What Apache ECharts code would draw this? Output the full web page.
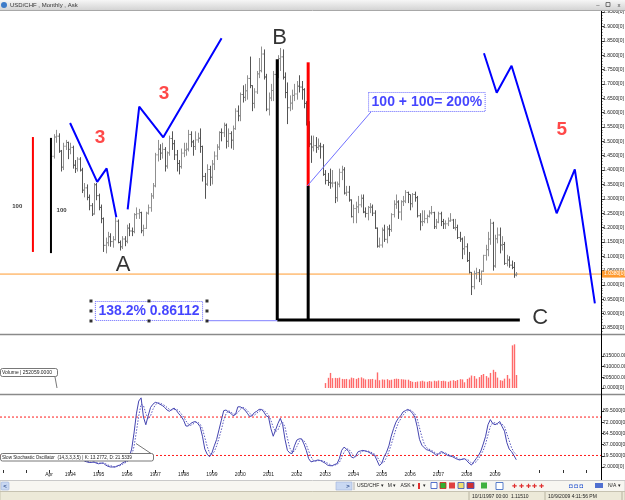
<!DOCTYPE html>
<html><head><meta charset="utf-8">
<script src="https://cdn.jsdelivr.net/npm/echarts@6/dist/echarts.min.js"></script>
<style>html,body{margin:0;padding:0;background:#fff;overflow:hidden}#c{width:625px;height:500px}</style>
</head><body><div id="c"></div>
<script>
// ---------- DATA (monthly USD/CHF, first bar = May 1993; month index m = months since Jan 1993) ----------
var firstMonthIndex = 4;
var open = [
1.4300,1.4480,1.5150,1.5180,1.4660,1.4100,1.4830,1.4960,
1.4720,1.4790,1.4170,1.4050,1.4380,1.4000,1.3300,1.3380,1.3050,1.2760,1.2470,1.3490,
1.3110,1.2700,1.2310,1.1380,1.1470,1.1680,1.1510,1.1580,1.2220,1.1480,1.1330,1.1600,
1.1520,1.1980,1.1880,1.1860,1.2450,1.2480,1.2520,1.1890,1.1970,1.2500,1.2690,1.3100,
1.3450,1.4530,1.4730,1.4590,1.4720,1.4140,1.4600,1.5100,1.4920,1.4530,1.4230,1.4120,
1.4590,1.4690,1.4730,1.5240,1.4980,1.4820,1.5050,1.5110,1.4820,1.3780,1.3510,1.4020,
1.3750,1.4210,1.4490,1.4800,1.5310,1.5300,1.5560,1.5000,1.5270,1.5040,1.5440,1.6050,
1.5890,1.6630,1.6530,1.6760,1.7190,1.6940,1.6320,1.6720,1.7350,1.7460,1.8040,1.7240,
1.6120,1.6510,1.6770,1.7330,1.7310,1.7880,1.7940,1.7230,1.6700,1.6170,1.6330,1.6600,
1.6650,1.6920,1.6890,1.6800,1.6320,1.5640,1.4910,1.4800,1.4850,1.4790,1.4840,1.4810,
1.3850,1.3640,1.3570,1.3550,1.3550,1.3040,1.3510,1.3920,1.4010,1.3200,1.3230,1.2960,
1.2380,1.2660,1.2720,1.2790,1.3020,1.2540,1.2490,1.2700,1.2710,1.2500,1.1980,1.1350,
1.1390,1.1910,1.1590,1.1950,1.1930,1.2450,1.2810,1.2890,1.2540,1.2900,1.2920,1.3220,
1.3150,1.2830,1.3150,1.3040,1.2410,1.2200,1.2210,1.2310,1.2390,1.2510,1.2520,1.2030,
1.2190,1.2480,1.2210,1.2130,1.2130,1.2230,1.2260,1.1990,1.2000,1.1650,1.1600,1.1260,
1.1330,1.0850,1.0440,0.9940,1.0400,1.0430,1.0200,1.0480,1.1030,1.1230,1.1600,1.2150,
1.0660,1.1610,1.1740,1.1390,1.1410,1.0750,1.0870,1.0690,1.0610,1.0350];
var high = [
1.4700,1.5250,1.5400,1.5280,1.4700,1.4950,1.5050,1.4990,
1.4950,1.4850,1.4350,1.4450,1.4450,1.4080,1.3550,1.3500,1.3150,1.2850,1.3550,1.3550,
1.3180,1.2800,1.2350,1.1650,1.1850,1.1800,1.1700,1.2350,1.2280,1.1550,1.1700,1.1700,
1.2100,1.2150,1.2000,1.2500,1.2700,1.2650,1.2550,1.2100,1.2550,1.2800,1.3200,1.3550,
1.4600,1.5050,1.4900,1.4950,1.4800,1.4650,1.5200,1.5350,1.5050,1.4700,1.4350,1.4750,
1.4950,1.4950,1.5400,1.5350,1.5050,1.5350,1.5300,1.5450,1.4850,1.3900,1.4200,1.4150,
1.4350,1.4650,1.4900,1.5350,1.5450,1.5650,1.5620,1.5450,1.5350,1.5550,1.6150,1.6250,
1.6700,1.6950,1.7000,1.7300,1.7950,1.6950,1.6850,1.7450,1.7900,1.8300,1.8200,1.7350,
1.6700,1.7000,1.7450,1.7700,1.8000,1.8250,1.8200,1.7400,1.7050,1.6600,1.6800,1.7000,
1.7100,1.7300,1.7100,1.6850,1.6400,1.5700,1.5200,1.5200,1.5150,1.5100,1.4950,1.4900,
1.4000,1.3900,1.4050,1.4000,1.3600,1.3600,1.4050,1.4150,1.4100,1.3450,1.3450,1.2980,
1.2800,1.2900,1.3100,1.3150,1.3150,1.2700,1.2750,1.2850,1.2800,1.2600,1.2000,1.1650,
1.2000,1.2100,1.2050,1.2100,1.2500,1.2950,1.3150,1.2950,1.2950,1.3100,1.3300,1.3250,
1.3150,1.3200,1.3250,1.3100,1.2500,1.2600,1.2600,1.2450,1.2600,1.2750,1.2550,1.2300,
1.2550,1.2550,1.2300,1.2250,1.2350,1.2500,1.2300,1.2300,1.2100,1.1850,1.1650,1.1700,
1.1450,1.1150,1.0450,1.0500,1.0600,1.0550,1.0500,1.1050,1.1400,1.1850,1.2300,1.2200,
1.1750,1.2000,1.2000,1.1700,1.1500,1.1050,1.1000,1.0850,1.0800,1.0450];
var low = [
1.4150,1.4400,1.4950,1.4600,1.3950,1.4000,1.4700,1.4380,
1.4550,1.4050,1.3900,1.3950,1.3950,1.3200,1.3050,1.2950,1.2600,1.2400,1.2450,1.2950,
1.2600,1.2150,1.1150,1.1100,1.1350,1.1330,1.1300,1.1550,1.1450,1.1200,1.1250,1.1350,
1.1450,1.1700,1.1700,1.1800,1.2300,1.2300,1.1800,1.1700,1.1950,1.2450,1.2550,1.3000,
1.3400,1.4300,1.4350,1.4400,1.3950,1.4050,1.4500,1.4700,1.4350,1.3950,1.3850,1.4050,
1.4450,1.4500,1.4650,1.4800,1.4500,1.4700,1.4950,1.4600,1.3600,1.3000,1.3450,1.3450,
1.3500,1.4000,1.4350,1.4700,1.5000,1.5150,1.4750,1.4800,1.4750,1.4700,1.5400,1.5700,
1.5700,1.6350,1.6400,1.6450,1.6850,1.6050,1.6150,1.6650,1.7200,1.7400,1.7150,1.6050,
1.5900,1.6400,1.6400,1.7000,1.7200,1.7450,1.7150,1.6500,1.5600,1.6050,1.6100,1.6400,
1.6450,1.6700,1.6450,1.6150,1.5550,1.4800,1.4250,1.4650,1.4600,1.4700,1.4400,1.3800,
1.3500,1.3450,1.3350,1.3400,1.2850,1.2900,1.3400,1.3650,1.3150,1.3100,1.2900,1.2350,
1.2150,1.2150,1.2500,1.2700,1.2500,1.2350,1.2250,1.2500,1.2400,1.1950,1.1300,1.1300,
1.1300,1.1500,1.1450,1.1700,1.1850,1.2350,1.2650,1.2300,1.2250,1.2750,1.2850,1.2850,
1.2600,1.2700,1.2900,1.2350,1.1900,1.2050,1.2150,1.2150,1.2350,1.2450,1.1950,1.1950,
1.2150,1.2050,1.1950,1.1950,1.2050,1.2200,1.1950,1.1900,1.1600,1.1500,1.0900,1.1050,
1.0800,1.0400,0.9650,0.9850,1.0200,1.0100,1.0000,1.0450,1.0850,1.1000,1.1400,1.0500,
1.0600,1.1450,1.1100,1.1200,1.0700,1.0650,1.0600,1.0550,1.0250,1.0300];
var close = [
1.4480,1.5150,1.5180,1.4660,1.4100,1.4830,1.4960,1.4720,
1.4790,1.4170,1.4050,1.4380,1.4000,1.3300,1.3380,1.3050,1.2760,1.2470,1.3490,1.3110,
1.2700,1.2310,1.1380,1.1470,1.1680,1.1510,1.1580,1.2220,1.1480,1.1330,1.1600,1.1520,
1.1980,1.1880,1.1860,1.2450,1.2480,1.2520,1.1890,1.1970,1.2500,1.2690,1.3100,1.3450,
1.4530,1.4730,1.4590,1.4720,1.4140,1.4600,1.5100,1.4920,1.4530,1.4230,1.4120,1.4590,
1.4690,1.4730,1.5240,1.4980,1.4820,1.5050,1.5110,1.4820,1.3780,1.3510,1.4020,1.3750,
1.4210,1.4490,1.4800,1.5310,1.5300,1.5560,1.5000,1.5270,1.5040,1.5440,1.6050,1.5890,
1.6630,1.6530,1.6760,1.7190,1.6940,1.6320,1.6720,1.7350,1.7460,1.8040,1.7240,1.6120,
1.6510,1.6770,1.7330,1.7310,1.7880,1.7940,1.7230,1.6700,1.6170,1.6330,1.6600,1.6650,
1.6920,1.6890,1.6800,1.6320,1.5640,1.4910,1.4800,1.4850,1.4790,1.4840,1.4810,1.3850,
1.3640,1.3570,1.3550,1.3550,1.3040,1.3510,1.3920,1.4010,1.3200,1.3230,1.2960,1.2380,
1.2660,1.2720,1.2790,1.3020,1.2540,1.2490,1.2700,1.2710,1.2500,1.1980,1.1350,1.1390,
1.1910,1.1590,1.1950,1.1930,1.2450,1.2810,1.2890,1.2540,1.2900,1.2920,1.3220,1.3150,
1.2830,1.3150,1.3040,1.2410,1.2200,1.2210,1.2310,1.2390,1.2510,1.2520,1.2030,1.2190,
1.2480,1.2210,1.2130,1.2130,1.2230,1.2260,1.1990,1.2000,1.1650,1.1600,1.1260,1.1330,
1.0850,1.0440,0.9940,1.0400,1.0430,1.0200,1.0480,1.1030,1.1230,1.1600,1.2150,1.0660,
1.1610,1.1740,1.1390,1.1410,1.0750,1.0870,1.0690,1.0610,1.0350,1.0380];

// Volume: first bar = Jan 2003 (m = 120)
var volumeFirstMonth = 120;
var volume = [
95000,196000,290000,190000,195000,190000,200000,175000,170000,175000,165000,200000,
190000,175000,195000,205000,185000,165000,170000,170000,175000,160000,300000,150000,
165000,160000,170000,150000,160000,175000,180000,175000,170000,165000,160000,160000,
135000,120000,115000,125000,130000,140000,125000,120000,135000,125000,140000,130000,
145000,135000,140000,130000,120000,140000,150000,135000,155000,170000,165000,110000,
175000,200000,240000,230000,180000,210000,250000,270000,230000,200000,290000,350000,
310000,200000,150000,140000,180000,250000,180000,820000,840000,250000];

// Slow stochastic: first point m = 18
var stochFirstMonth = 18;
var stochK = [
11,10,9,9,10,8,7,8,8,5,3,2,
2,2,4,5,8,10,12,18,30,55,85,105,
110,80,68,82,95,100,103,102,100,98,95,91,
89,92,94,90,85,81,75,66,66,70,72,73,
70,65,50,30,22,18,24,35,45,60,75,90,
91,88,86,82,84,96,96,94,91,86,81,82,
87,89,92,92,88,82,80,62,50,60,70,78,
68,45,28,24,23,35,44,46,46,38,28,15,
10,11,12,13,12,10,8,5,4,4,6,7,
15,28,33,30,26,18,16,20,26,27,28,27,
26,24,22,20,12,4,8,18,25,35,50,62,
72,78,82,88,90,92,90,86,80,65,45,36,
32,29,28,26,24,20,22,26,25,22,20,19,
18,16,14,13,14,15,12,8,5,10,15,20,
27,38,50,68,76,70,68,70,73,65,58,40,
30,26,20,13.28];
var stochD = [
12,11,10,9,9,9,8,8,8,7,5,4,
3,2,3,4,6,8,10,13,20,34,57,82,
100,98,86,77,82,92,99,102,102,100,98,95,
92,91,92,92,90,85,80,74,69,67,69,72,
72,69,62,48,34,24,21,26,35,47,60,75,
85,90,88,85,84,87,92,95,94,90,86,83,
83,86,89,91,91,87,83,75,64,57,60,69,
72,64,47,32,25,27,34,42,45,43,37,27,
18,12,11,12,12,12,10,8,6,4,5,6,
9,17,25,30,30,25,20,18,21,24,27,27,
27,26,24,22,18,12,8,10,17,26,37,49,
61,71,77,83,87,90,91,89,85,77,63,49,
38,32,30,28,26,23,22,23,24,24,22,20,
19,18,16,14,14,14,14,12,8,8,10,15,
21,28,38,52,65,71,71,69,70,69,65,54,
43,32,25,21.53];
var stochLevels = [80, 20];

// Axis ticks / labels
var priceTicks = [0.85,0.90,0.95,1.00,1.05,1.10,1.15,1.20,1.25,1.30,1.35,1.40,1.45,1.50,1.55,1.60,1.65,1.70,1.75,1.80,1.85,1.90,1.95];
var volumeTicks = [0,205000,410000,615000];
var stochTicks = [2,19.5,37,54.5,72,89.5];
var xLabelMonths = [3,12,24,36,48,60,72,84,96,108,120,132,144,156,168,180,192];
var xLabelTexts = ['Apr','1994','1995','1996','1997','1998','1999','2000','2001','2002','2003','2004','2005','2006','2007','2008','2009'];
var xTickMonths = [-16.4,-6.5,3,12,24,36,48,60,72,84,96,108,120,132,144,156,168,180,192,210.6,220.8,230.5];

// Annotation drawings in (month index, price)
var wave1 = [[11.9,1.564],[23.4,1.359],[27.4,1.406],[31.5,1.236]];
var wave2 = [[36.3,1.2635],[41.2,1.6206],[51.4,1.514],[76.1,1.8587]];
var wave3 = [[187.3,1.8065],[192.7,1.6693],[199.0,1.7633],[218.1,1.2496],[225.8,1.4027],[234.3,0.9363]];
var redBar1 = [[-3.85,1.515],[-3.85,1.115]];
var blackBar1 = [[3.8,1.512],[3.8,1.111]];
var blackBarB = [[99.7,1.7856],[99.7,0.8782]];
var redBarB = [[112.8,1.7751],[112.8,1.3446]];
var blackBarB2 = [[112.8,1.3446],[112.8,0.8782]];
var baseLineC = [[99.7,0.8782],[202.5,0.8782]];
var linkLine1 = [[69.9,0.8757],[99.7,0.8757]];
var linkLine2 = [[112.4,1.3446],[139.4,1.6022]];
var redNumbers = [{name:'3',value:[24.6,1.5127]},{name:'3',value:[51.7,1.6648]},{name:'5',value:[220.3,1.5395]}];
var bigLetters = [{name:'A',value:[34.4,1.0707]},{name:'B',value:[100.7,1.8587]},{name:'C',value:[211.1,0.8862]}];
var smallTexts = [{name:'100',value:[-10.5,1.275]},{name:'100',value:[8.3,1.261]}];
var boxTexts = [{name:'138.2% 0.86112',value:[45.34,0.9095]},{name:'100 + 100= 200%',value:[163.1,1.637]}];
var boxHandles = [[20.76,0.9443],[45.34,0.9443],[69.92,0.9443],[20.76,0.9095],[69.92,0.9095],[20.76,0.8747],[45.34,0.8747],[69.92,0.8747]];

// ---------- CHART ----------
var XMIN = -17.8, XMAX = 236.9;
var FONT = '"Liberation Sans", Arial, sans-serif';

var ohlc = open.map(function(o,i){ return [firstMonthIndex+i, o, high[i], low[i], close[i]]; });
var volData = volume.map(function(v,i){ return [volumeFirstMonth+i, v]; });
var kData = stochK.map(function(v,i){ return [stochFirstMonth+i, v]; });
var dData = stochD.map(function(v,i){ return [stochFirstMonth+i, v]; });
var lastClose = close[close.length-1];

var minorPrice = [];
for (var t = 83; t <= 195; t++) minorPrice.push(t/100);

function xAx(gi, showLabels){
  var a = {type:'value', gridIndex:gi, min:XMIN, max:XMAX, splitLine:{show:false}, axisLine:{show:false, onZero:false}};
  if (!showLabels){ a.axisTick={show:false}; a.axisLabel={show:false}; }
  else {
    a.axisTick = {show:true, customValues:xTickMonths, length:3, lineStyle:{color:'#333'}};
    a.axisLabel = {show:true, customValues:xLabelMonths, fontSize:5, fontFamily:FONT, color:'#222', margin:2,
      formatter:function(v){ var i=xLabelMonths.indexOf(v); return i>=0?xLabelTexts[i]:''; }};
  }
  return a;
}
function yAx(gi, min, max, ticks, fmt){
  return {type:'value', gridIndex:gi, position:'right', min:min, max:max, splitLine:{show:false},
    axisLine:{show:false, onZero:false},
    axisTick:{show:true, inside:false, length:3, customValues:ticks, lineStyle:{color:'#333'}},
    axisLabel:{show:true, customValues:ticks, fontSize:5, fontFamily:FONT, color:'#222', margin:2, formatter:fmt}};
}
function lineS(data, color, width, type, xi, yi){
  return {type:'line', xAxisIndex:xi||0, yAxisIndex:yi||0, data:data, symbol:'none', clip:false, silent:true, z:5,
    lineStyle:{color:color, width:width, type:type||'solid'}};
}
function textS(data, fontSize, color, weight, extra){
  var lab = {show:true, position:'inside', formatter:'{b}', fontSize:fontSize, color:color, fontWeight:weight, fontFamily:FONT};
  if (extra) for (var k in extra) lab[k]=extra[k];
  return {type:'scatter', xAxisIndex:0, yAxisIndex:0, data:data, symbol:'circle', symbolSize:1, clip:false, silent:true, z:8,
    itemStyle:{color:'rgba(0,0,0,0)'}, label:lab};
}

var series = [
  {type:'custom', name:'USD/CHF', xAxisIndex:0, yAxisIndex:0, data:ohlc, silent:true, z:3,
    encode:{x:0, y:[1,2,3,4]},
    renderItem:function(params, api){
      var m=api.value(0), o=api.value(1), h=api.value(2), l=api.value(3), c=api.value(4);
      var ph=api.coord([m,h]), pl=api.coord([m,l]), po=api.coord([m,o]), pc=api.coord([m,c]);
      var x=Math.round(ph[0])+0.5;
      var col = c>=o ? '#8f8f8f' : '#555555';
      return {type:'group', children:[
        {type:'line', shape:{x1:x,y1:ph[1],x2:x,y2:pl[1]}, style:{stroke:col, lineWidth:1}},
        {type:'line', shape:{x1:x-1.2,y1:po[1],x2:x,y2:po[1]}, style:{stroke:col, lineWidth:1}},
        {type:'line', shape:{x1:x,y1:pc[1],x2:x+1.2,y2:pc[1]}, style:{stroke:col, lineWidth:1}}
      ]};
    }
  },
  // last price line (orange) with its axis tag
  {type:'line', xAxisIndex:0, yAxisIndex:0, data:[[XMIN,lastClose],[XMAX,lastClose]], symbol:'none', silent:true, z:2,
    lineStyle:{color:'#ff9a2e', width:1},
    endLabel:{show:true, distance:1, formatter:function(){return lastClose.toFixed(4)+'[0]';},
      backgroundColor:'#ff9a2e', color:'#ffffff', fontSize:5, fontFamily:FONT, padding:[1,2,1,2]}},
  lineS(redBar1, '#ff0000', 2),
  lineS(blackBar1, '#000000', 2),
  lineS(blackBarB, '#000000', 3),
  lineS(redBarB, '#ff0000', 3),
  lineS(blackBarB2, '#000000', 3),
  lineS(baseLineC, '#000000', 3),
  lineS(linkLine1, '#8080ff', 1),
  lineS(linkLine2, '#7070ff', 1),
  lineS(wave1, '#0000ff', 2),
  lineS(wave2, '#0000ff', 2),
  lineS(wave3, '#0000ff', 2),
  textS(redNumbers, 19, '#ff1a1a', 'bold'),
  textS(bigLetters, 22, '#000000', 'normal'),
  textS(smallTexts, 6, '#000000', 'bold'),
  textS(boxTexts, 14, '#1515ff', 'bold', {borderColor:'#4040ff', borderWidth:1, borderType:'dotted', padding:[2,3,2,3], lineHeight:15}),
  {type:'scatter', xAxisIndex:0, yAxisIndex:0, data:boxHandles, symbol:'rect', symbolSize:3, silent:true, z:9,
    itemStyle:{color:'#000000'}},
  // volume bars
  {type:'custom', name:'Volume', xAxisIndex:1, yAxisIndex:2, data:volData, silent:true,
    encode:{x:0, y:1},
    renderItem:function(params, api){
      var top=api.coord([api.value(0), api.value(1)]), base=api.coord([api.value(0), 0]);
      var x=Math.round(top[0]);
      return {type:'rect', shape:{x:x-0.2, y:top[1], width:1.4, height:base[1]-top[1]}, style:{fill:'#ff6a6a'}};
    }
  },
  // stochastic
  {type:'line', name:'K', xAxisIndex:2, yAxisIndex:3, data:kData, symbol:'none', silent:true, z:4,
    lineStyle:{color:'#4444b0', width:1}},
  {type:'line', name:'D', xAxisIndex:2, yAxisIndex:3, data:dData, symbol:'none', silent:true, z:4,
    lineStyle:{color:'#5858c0', width:1, type:[1.5,1.5]}}
];
stochLevels.forEach(function(lv){
  series.push({type:'line', xAxisIndex:2, yAxisIndex:3, data:[[XMIN,lv],[XMAX,lv]], symbol:'none', silent:true, z:2,
    lineStyle:{color:'#ff1a1a', width:1, type:[2,2]}});
});

var chart = echarts.init(document.getElementById('c'), null, {renderer:'canvas'});
var option = {
  animation:false,
  backgroundColor:'#ffffff',
  grid:[
    {left:0, right:24, top:11, height:323, containLabel:false, outerBoundsMode:'none'},
    {left:0, right:24, top:336, height:58, containLabel:false, outerBoundsMode:'none'},
    {left:0, right:24, top:396, height:74, containLabel:false, outerBoundsMode:'none'}
  ],
  xAxis:[xAx(0,false), xAx(1,false), xAx(2,true)],
  yAxis:[
    yAx(0, 0.8294, 1.9537, priceTicks, function(v){return v.toFixed(4)+'[0]';}),
    {type:'value', gridIndex:0, position:'right', min:0.8294, max:1.9537, splitLine:{show:false}, axisLine:{show:false, onZero:false},
      axisLabel:{show:false}, axisTick:{show:true, length:1.5, customValues:minorPrice, lineStyle:{color:'#555'}}},
    yAx(1, -115000, 1000000, volumeTicks, function(v){return v.toFixed(4)+'[0]';}),
    yAx(2, -2.7, 112.9, stochTicks, function(v){return v.toFixed(4)+'[0]';})
  ],
  series:series,
  graphic:[
    // title bar
    {type:'rect', shape:{x:0,y:0,width:625,height:10}, silent:true, z:100,
      style:{fill:new echarts.graphic.LinearGradient(0,0,0,1,[{offset:0,color:'#f6f6f6'},{offset:1,color:'#d4d4d4'}])}},
    {type:'line', shape:{x1:0,y1:10.5,x2:625,y2:10.5}, silent:true, z:100, style:{stroke:'#a8a8a8', lineWidth:1}},
    {type:'circle', shape:{cx:4,cy:5,r:3}, silent:true, z:101, style:{fill:'#3d7cc9'}},
    {type:'text', x:10, y:5.5, silent:true, z:101, style:{text:'USD/CHF , Monthly , Ask', font:'6px '+FONT, fill:'#333', verticalAlign:'middle'}},
    {type:'text', x:598, y:5, silent:true, z:101, style:{text:'–', font:'6px '+FONT, fill:'#444', verticalAlign:'middle', align:'center'}},
    {type:'rect', shape:{x:606,y:2.5,width:4,height:4}, silent:true, z:101, style:{fill:'none', stroke:'#555', lineWidth:0.8}},
    {type:'text', x:619, y:5, silent:true, z:101, style:{text:'x', font:'6px '+FONT, fill:'#444', verticalAlign:'middle', align:'center'}},
    // panel separators and right axis line
    {type:'line', shape:{x1:0,y1:334.5,x2:625,y2:334.5}, silent:true, z:100, style:{stroke:'#8a8a8a', lineWidth:1.5}},
    {type:'line', shape:{x1:0,y1:394.5,x2:625,y2:394.5}, silent:true, z:100, style:{stroke:'#8a8a8a', lineWidth:1.5}},
    {type:'line', shape:{x1:601.5,y1:11,x2:601.5,y2:481}, silent:true, z:100, style:{stroke:'#000', lineWidth:1}},
    // volume label box
    {type:'line', shape:{x1:55,y1:377,x2:57,y2:388}, silent:true, z:100, style:{stroke:'#555', lineWidth:0.8}},
    {type:'rect', shape:{x:0.5,y:368.5,width:57,height:8,r:2}, silent:true, z:100, style:{fill:'#fff', stroke:'#555', lineWidth:0.8}},
    {type:'text', x:2, y:372.7, silent:true, z:101, style:{text:'Volume | 252059.0000', font:'5px '+FONT, fill:'#222', verticalAlign:'middle'}},
    // stochastic label box
    {type:'line', shape:{x1:151,y1:453.5,x2:136,y2:443.5}, silent:true, z:100, style:{stroke:'#555', lineWidth:0.8}},
    {type:'rect', shape:{x:0.5,y:453.5,width:153,height:7.5,r:2}, silent:true, z:100, style:{fill:'#fff', stroke:'#555', lineWidth:0.8}},
    {type:'text', x:2, y:457.4, silent:true, z:101, style:{text:'Slow Stochastic Oscillator  (14,3,3,3,5) | K: 13.2772, D: 21.5339', font:'4.6px '+FONT, fill:'#222', verticalAlign:'middle'}},
    // bottom toolbar
    {type:'rect', shape:{x:0,y:480.5,width:625,height:11}, silent:true, z:100, style:{fill:'#f7f6f1', stroke:'#c9c9c9', lineWidth:1}},
    {type:'rect', shape:{x:1,y:482,width:8,height:8,r:1}, silent:true, z:101, style:{fill:'#c9d8f2', stroke:'#9fb3d8', lineWidth:0.6}},
    {type:'text', x:5, y:486, silent:true, z:102, style:{text:'<', font:'bold 6px '+FONT, fill:'#2a4a8a', align:'center', verticalAlign:'middle'}},
    {type:'rect', shape:{x:336,y:482,width:16,height:8}, silent:true, z:101, style:{fill:'#c9d8f2', stroke:'#9fb3d8', lineWidth:0.6}},
    {type:'text', x:348, y:486, silent:true, z:102, style:{text:'>', font:'bold 6px '+FONT, fill:'#2a4a8a', align:'center', verticalAlign:'middle'}},
    {type:'line', shape:{x1:354,y1:482,x2:354,y2:490}, silent:true, z:101, style:{stroke:'#b0b0b0'}},
    {type:'text', x:357, y:486, silent:true, z:102, style:{text:'USD/CHF ▾   M ▾   ASK ▾', font:'5px '+FONT, fill:'#222', verticalAlign:'middle'}},
    {type:'rect', shape:{x:418,y:483,width:2,height:6}, silent:true, z:101, style:{fill:'#e03030'}},
    {type:'text', x:423, y:486, silent:true, z:102, style:{text:'▾', font:'5px '+FONT, fill:'#222', verticalAlign:'middle'}},
    {type:'rect', shape:{x:431,y:482.5,width:6,height:6}, silent:true, z:101, style:{fill:'#fff', stroke:'#3050c0', lineWidth:0.8}},
    {type:'rect', shape:{x:440,y:482.5,width:6,height:6}, silent:true, z:101, style:{fill:'#30b030', stroke:'#d02020', lineWidth:0.8}},
    {type:'rect', shape:{x:449,y:482.5,width:6,height:6}, silent:true, z:101, style:{fill:'#e04040'}},
    {type:'rect', shape:{x:458,y:482.5,width:6,height:6}, silent:true, z:101, style:{fill:'#f0e070', stroke:'#3050c0', lineWidth:0.8}},
    {type:'rect', shape:{x:467,y:482.5,width:7,height:6}, silent:true, z:101, style:{fill:'#d03030', stroke:'#3050c0', lineWidth:0.8}},
    {type:'rect', shape:{x:481,y:482.5,width:6,height:6}, silent:true, z:101, style:{fill:'#40b040'}},
    {type:'rect', shape:{x:496,y:482.5,width:7,height:7}, silent:true, z:101, style:{fill:'#fff', stroke:'#3060c0', lineWidth:0.8}},
    {type:'text', x:528, y:486, silent:true, z:102, style:{text:'✚ ✚ ✚ ✚ ✚', font:'6px '+FONT, fill:'#e03030', align:'center', verticalAlign:'middle'}},
    {type:'text', x:576, y:486, silent:true, z:102, style:{text:'◘ ◘ ◘', font:'6px '+FONT, fill:'#2050d0', align:'center', verticalAlign:'middle'}},
    {type:'rect', shape:{x:595,y:483,width:8,height:5}, silent:true, z:101, style:{fill:'#5070d0'}},
    {type:'text', x:608, y:486, silent:true, z:102, style:{text:'N/A ▾', font:'5px '+FONT, fill:'#222', verticalAlign:'middle'}},
    // status bar
    {type:'rect', shape:{x:0,y:491.5,width:625,height:9}, silent:true, z:100, style:{fill:'#ece9d8', stroke:'#c0bca8', lineWidth:0.8}},
    {type:'line', shape:{x1:469,y1:492,x2:469,y2:500}, silent:true, z:101, style:{stroke:'#b8b4a0'}},
    {type:'text', x:472, y:496.3, silent:true, z:102, style:{text:'10/1/1997 00:00  1.11510', font:'5px '+FONT, fill:'#222', verticalAlign:'middle'}},
    {type:'line', shape:{x1:545,y1:492,x2:545,y2:500}, silent:true, z:101, style:{stroke:'#b8b4a0'}},
    {type:'text', x:548, y:496.3, silent:true, z:102, style:{text:'10/9/2009 4:11:56 PM', font:'5px '+FONT, fill:'#222', verticalAlign:'middle'}},
    {type:'line', shape:{x1:622,y1:492,x2:622,y2:500}, silent:true, z:101, style:{stroke:'#b8b4a0'}}
  ]
};
chart.setOption(option);
</script></body></html>
